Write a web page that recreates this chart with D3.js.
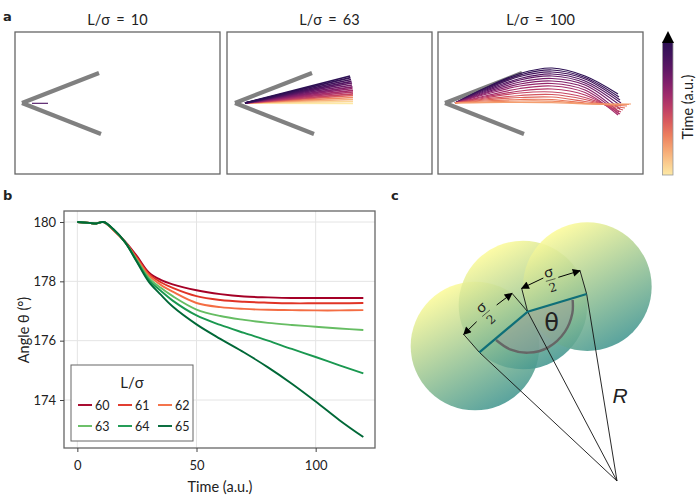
<!DOCTYPE html>
<html><head><meta charset="utf-8">
<script src="https://cdn.jsdelivr.net/npm/d3@7"></script>
<style>html,body{margin:0;padding:0;background:#fff}svg{display:block}text{font-family:Lato,"Noto Sans",sans-serif;fill:#222}</style>
</head><body><svg id="c" width="700" height="500"></svg>
<script>
// ---------- panel a data
const titles = ["L/σ = 10","L/σ = 63","L/σ = 100"];
const armUpper = [[0,0],[77,30]];
const armLower = [[0,0],[79,-31]];
const shortFilament = [[10,-0.3],[26,-0.3]];
const tips63X = [115,115.5,116,116.5,117,117,117.5,117.5,118,118,118,118,118,118,118,118];
const tips63Y = [27,25.3,23.5,21.7,20,18,16.2,14.5,12.7,11,9.2,7.5,5.5,3.5,1.5,-0.5];
const times63 = [19,18,17,16,15,14,13,12,11,10,9,7,5,3,1,0];
const times100 = [19,18,17,16,15,14,13,12,11,10,9,8,7,6,5,4];
const y40 = [15,14.5,13.5,12.5,11.5,10.5,9.5,8.5,7,6,5,4,3,2,1,0.3];
const y75 = [29.5,28,26.5,24.5,23,21,19,17,14.5,12,10,7.5,5.5,3.5,2,0.6];
const y107 = [35,33,31,29,27,24.5,22,19.5,17,14,11,8.5,6,3.5,1.8,0.3];
const y140 = [27,25.5,24,22,20,18,15.5,13,10.5,8,5.5,3.5,1.5,0,-0.7,-0.8];
const endX = [173,174,175,176,176,175,174,174,173,175,176,178,180,182,184,186];
const endY = [9,6,3,0,-3,-6,-9,-11,-12,-11,-9,-7,-5,-3,-1.5,-1];
const timeColors = ["#fde9a5","#f8b079","#ec7050","#c03a6a","#8a1f6d","#4f1562","#2c1053"];
// ---------- panel b data
const timeB = [0,5,8,11,15,20,25,30,35,40,50,60,70,80,90,100,110,120];
const seriesNames = ["60","61","62","63","64","65"];
const seriesColors = ["#a50026","#e03426","#f46d43","#66bd63","#1a9850","#006837"];
const s60 = [180,179.97,179.95,180,179.74,179.35,178.85,178.3,178.05,177.9,177.7,177.57,177.49,177.46,177.44,177.44,177.44,177.44];
const s61 = [180,179.97,179.95,180,179.74,179.33,178.8,178.25,177.97,177.78,177.5,177.37,177.31,177.28,177.26,177.26,177.26,177.27];
const s62 = [180,179.97,179.95,180,179.74,179.32,178.75,178.2,177.88,177.65,177.27,177.13,177.07,177.04,177.03,177.02,177.02,177.03];
const s63 = [180,179.97,179.95,180,179.75,179.32,178.72,178.12,177.78,177.5,177.05,176.83,176.7,176.6,176.53,176.47,176.41,176.36];
const s64 = [180,179.97,179.95,180,179.76,179.32,178.68,178.05,177.68,177.35,176.85,176.53,176.26,176,175.72,175.45,175.17,174.9];
const s65 = [180,179.97,179.95,180,179.77,179.32,178.65,177.98,177.55,177.15,176.55,176.06,175.6,175.1,174.55,173.95,173.32,172.75];
const xTicksB = [0,50,100];
const yTicksB = [174,176,178,180];
// ---------- panel c data (units: thirds of a pixel from the panel corner)
const circleX = [270,414,607];
const circleY = [468,345,290];
const circleR = 193;
const backbone = [[283,487],[428,365],[605,312]];
const radial1 = [[236,433],[283,487],[696,873]];
const radial2 = [[381,310],[428,365],[696,873]];
const radial3 = [[585,242],[605,312],[696,873]];
const radial4 = [[410,295],[428,365]];
const arcPts = [[333,450],[375,478],[430,488],[490,472],[540,425],[562,370],[563,330]];
const arrowSegs = [[[275,395],[236,433]],[[335,345],[381,310]],[[475,264],[410,295]],[[520,262],[585,242]]];

const svg = d3.select("#c");
const defs = svg.append("defs");
defs.append("marker").attr("id","ah").attr("viewBox","0 0 10 10").attr("refX",9).attr("refY",5)
  .attr("markerWidth",10).attr("markerHeight",8).attr("markerUnits","userSpaceOnUse").attr("orient","auto")
  .append("path").attr("d","M0,0L10,5L0,10Z").attr("fill","#000");

// ---------- panel a
const panelLefts = [15,227,438];
const colorT = d3.scaleLinear().domain([0,19]).range([0,1]);
const ramp = d3.interpolateRgbBasis(timeColors);
const col = t => ramp(colorT(t));
panelLefts.forEach((left,i)=>{
  const vx = [7,8,7][i];
  const x = d3.scaleLinear().domain([-vx,205-vx]).range([left,left+205]);
  const y = d3.scaleLinear().domain([71,-71]).range([32,174]);
  const g = svg.append("g");
  g.append("rect").attr("x",left).attr("y",32).attr("width",205).attr("height",142)
    .attr("fill","#fff").attr("stroke","#666").attr("stroke-width",1.3);
  g.append("text").attr("x",left+102.5).attr("y",25).attr("text-anchor","middle").attr("font-size",14.5).attr("word-spacing",2.5).text(titles[i]);
  const line = d3.line().x(d=>x(d[0])).y(d=>y(d[1]));
  [armUpper,armLower].forEach(a=>g.append("path").attr("d",line(a)).attr("fill","none").attr("stroke","#808080").attr("stroke-width",4.2));
  if(i===0) g.append("path").attr("d",line(shortFilament)).attr("fill","none").attr("stroke","#4a1060").attr("stroke-width",1.1);
  if(i===1){
    const order = d3.range(tips63X.length).reverse();
    order.forEach(k=>g.append("path").attr("d",line([[10,0],[tips63X[k],tips63Y[k]]]))
      .attr("fill","none").attr("stroke",col(times63[k])).attr("stroke-width",1.7));
  }
  if(i===2){
    const sm = d3.line().x(d=>x(d[0])).y(d=>y(d[1])).curve(d3.curveCatmullRom);
    d3.range(endX.length).forEach(k=>{
      const pts=[[10,0],[40,y40[k]],[75,y75[k]],[107,y107[k]],[140,y140[k]],[endX[k],endY[k]]];
      g.append("path").attr("d",sm(pts)).attr("fill","none").attr("stroke",col(times100[k])).attr("stroke-width",1.2);
    });
  }
});
// colorbar
const grad = defs.append("linearGradient").attr("id","cb").attr("x1",0).attr("x2",0).attr("y1",1).attr("y2",0);
d3.range(0,1.01,0.1).forEach(o=>grad.append("stop").attr("offset",o).attr("stop-color",col(o*19)));
svg.append("rect").attr("x",662.5).attr("y",42).attr("width",10.5).attr("height",133).attr("fill","url(#cb)").attr("stroke","#999").attr("stroke-width",.8);
svg.append("path").attr("d",d3.line()([[662,43],[668,31],[674,43]])+"Z").attr("fill","#000");
svg.append("text").attr("transform","translate(693,107) rotate(-90)").attr("text-anchor","middle").attr("font-size",14.5).text("Time (a.u.)");

// ---------- panel b
const xB = d3.scaleLinear().domain([-5.6,124.9]).range([64,375]);
const yB = d3.scaleLinear().domain([180,174]).range([222,400]);
const b = svg.append("g");
b.selectAll("line.gx").data(xTicksB).join("line").attr("x1",d=>xB(d)).attr("x2",d=>xB(d)).attr("y1",211).attr("y2",448).attr("stroke","#e4e4e4");
b.selectAll("line.gy").data(yTicksB).join("line").attr("y1",d=>yB(d)).attr("y2",d=>yB(d)).attr("x1",64).attr("x2",375).attr("stroke","#e4e4e4");
const lineB = d3.line().x((d,i)=>xB(timeB[i])).y(d=>yB(d)).curve(d3.curveCatmullRom);
[s60,s61,s62,s63,s64,s65].forEach((s,i)=>b.append("path").attr("d",lineB(s)).attr("fill","none").attr("stroke",seriesColors[i]).attr("stroke-width",1.9));
b.append("rect").attr("x",64).attr("y",211).attr("width",311).attr("height",237).attr("fill","none").attr("stroke","#666").attr("stroke-width",1.3);
const ax = b.append("g").attr("transform","translate(0,448)").call(d3.axisBottom(xB).tickValues(xTicksB).tickSize(4).tickPadding(9));
const ay = b.append("g").attr("transform","translate(64,0)").call(d3.axisLeft(yB).tickValues(yTicksB).tickFormat(d3.format("d")).tickSize(4).tickPadding(4));
[ax,ay].forEach(a=>{a.select(".domain").remove();a.selectAll("line").attr("stroke","#444");a.selectAll("text").attr("font-size",13).style("font-family","Lato").attr("fill","#222");});
b.append("text").attr("x",220).attr("y",492).attr("text-anchor","middle").attr("font-size",14.5).text("Time (a.u.)");
b.append("text").attr("transform","translate(29,330) rotate(-90)").attr("text-anchor","middle").attr("font-size",14.5).text("Angle θ (°)");
// legend
const lg = b.append("g");
lg.append("rect").attr("x",71).attr("y",365).attr("width",122).attr("height",76).attr("fill","#fff").attr("stroke","#666").attr("stroke-width",1);
lg.append("text").attr("x",132).attr("y",388).attr("text-anchor","middle").attr("font-size",15).text("L/σ");
seriesNames.forEach((n,i)=>{
  const cx=78+(i%3)*40, cy=405+Math.floor(i/3)*21;
  lg.append("line").attr("x1",cx).attr("x2",cx+14).attr("y1",cy).attr("y2",cy).attr("stroke",seriesColors[i]).attr("stroke-width",1.9);
  lg.append("text").attr("x",cx+17).attr("y",cy+5).attr("font-size",12.5).text(n);
});

// ---------- panel c
const xC = d3.scaleLinear().domain([0,870]).range([385,675]);
const yC = d3.scaleLinear().domain([0,660]).range([190,410]);
const c = svg.append("g");
const gr = defs.append("linearGradient").attr("id","ball").attr("x1",0.22).attr("y1",0.08).attr("x2",0.72).attr("y2",0.98);
gr.append("stop").attr("offset",0).attr("stop-color","#fdfb9a");
gr.append("stop").attr("offset",1).attr("stop-color","#3f9490");
circleX.forEach((cx,i)=>c.append("circle").attr("cx",xC(cx)).attr("cy",yC(circleY[i])).attr("r",xC(circleR)-xC(0)).attr("fill","url(#ball)").attr("fill-opacity",0.88));
const lineC = d3.line().x(d=>xC(d[0])).y(d=>yC(d[1]));
const arcLine = d3.line().x(d=>xC(d[0])).y(d=>yC(d[1])).curve(d3.curveCatmullRom);
c.append("path").attr("d",arcLine(arcPts)+"L"+xC(backbone[2][0])+","+yC(backbone[2][1])+"L"+xC(backbone[1][0])+","+yC(backbone[1][1])+"Z").attr("fill","#999").attr("fill-opacity",.45);
c.append("path").attr("d",arcLine(arcPts)).attr("fill","none").attr("stroke","#666").attr("stroke-width",2.4);
[radial1,radial2,radial3,radial4].forEach(r=>c.append("path").attr("d",lineC(r)).attr("fill","none").attr("stroke","#111").attr("stroke-width",.9));
c.append("path").attr("d",lineC(backbone)).attr("fill","none").attr("stroke","#0f6f78").attr("stroke-width",2.2);
arrowSegs.forEach(s=>c.append("path").attr("d",lineC(s)).attr("fill","none").attr("stroke","#000").attr("stroke-width",1).attr("marker-end","url(#ah)"));
[[303,370,-40],[497,270,-16]].forEach(f=>{
  const t=c.append("g").attr("transform",`translate(${xC(f[0])},${yC(f[1])}) rotate(${f[2]})`);
  t.append("text").attr("text-anchor","middle").attr("y",-3).attr("font-size",15).attr("fill","#111").text("σ");
  t.append("line").attr("x1",-5).attr("x2",5).attr("y1",0).attr("y2",0).attr("stroke","#222").attr("stroke-width",.6);
  t.append("text").attr("text-anchor","middle").attr("y",12).attr("font-size",12).attr("fill","#111").style("font-family","'DejaVu Serif'").text("2");
});
c.append("text").attr("x",xC(500)).attr("y",yC(424)).attr("text-anchor","middle").attr("font-size",24).attr("fill","#111").style("font-family","'DejaVu Sans'").text("θ");
c.append("text").attr("x",xC(705)).attr("y",yC(638)).attr("text-anchor","middle").attr("font-size",21).attr("fill","#111").style("font-family","'Liberation Sans'").style("font-style","italic").text("R");

// panel letters
[["a",3,21],["b",3,200],["c",391,200]].forEach(l=>svg.append("text").attr("x",l[1]).attr("y",l[2]).attr("font-size",13).attr("font-weight","bold").style("font-family","'DejaVu Sans'").attr("fill","#000").text(l[0]));
</script></body></html>
